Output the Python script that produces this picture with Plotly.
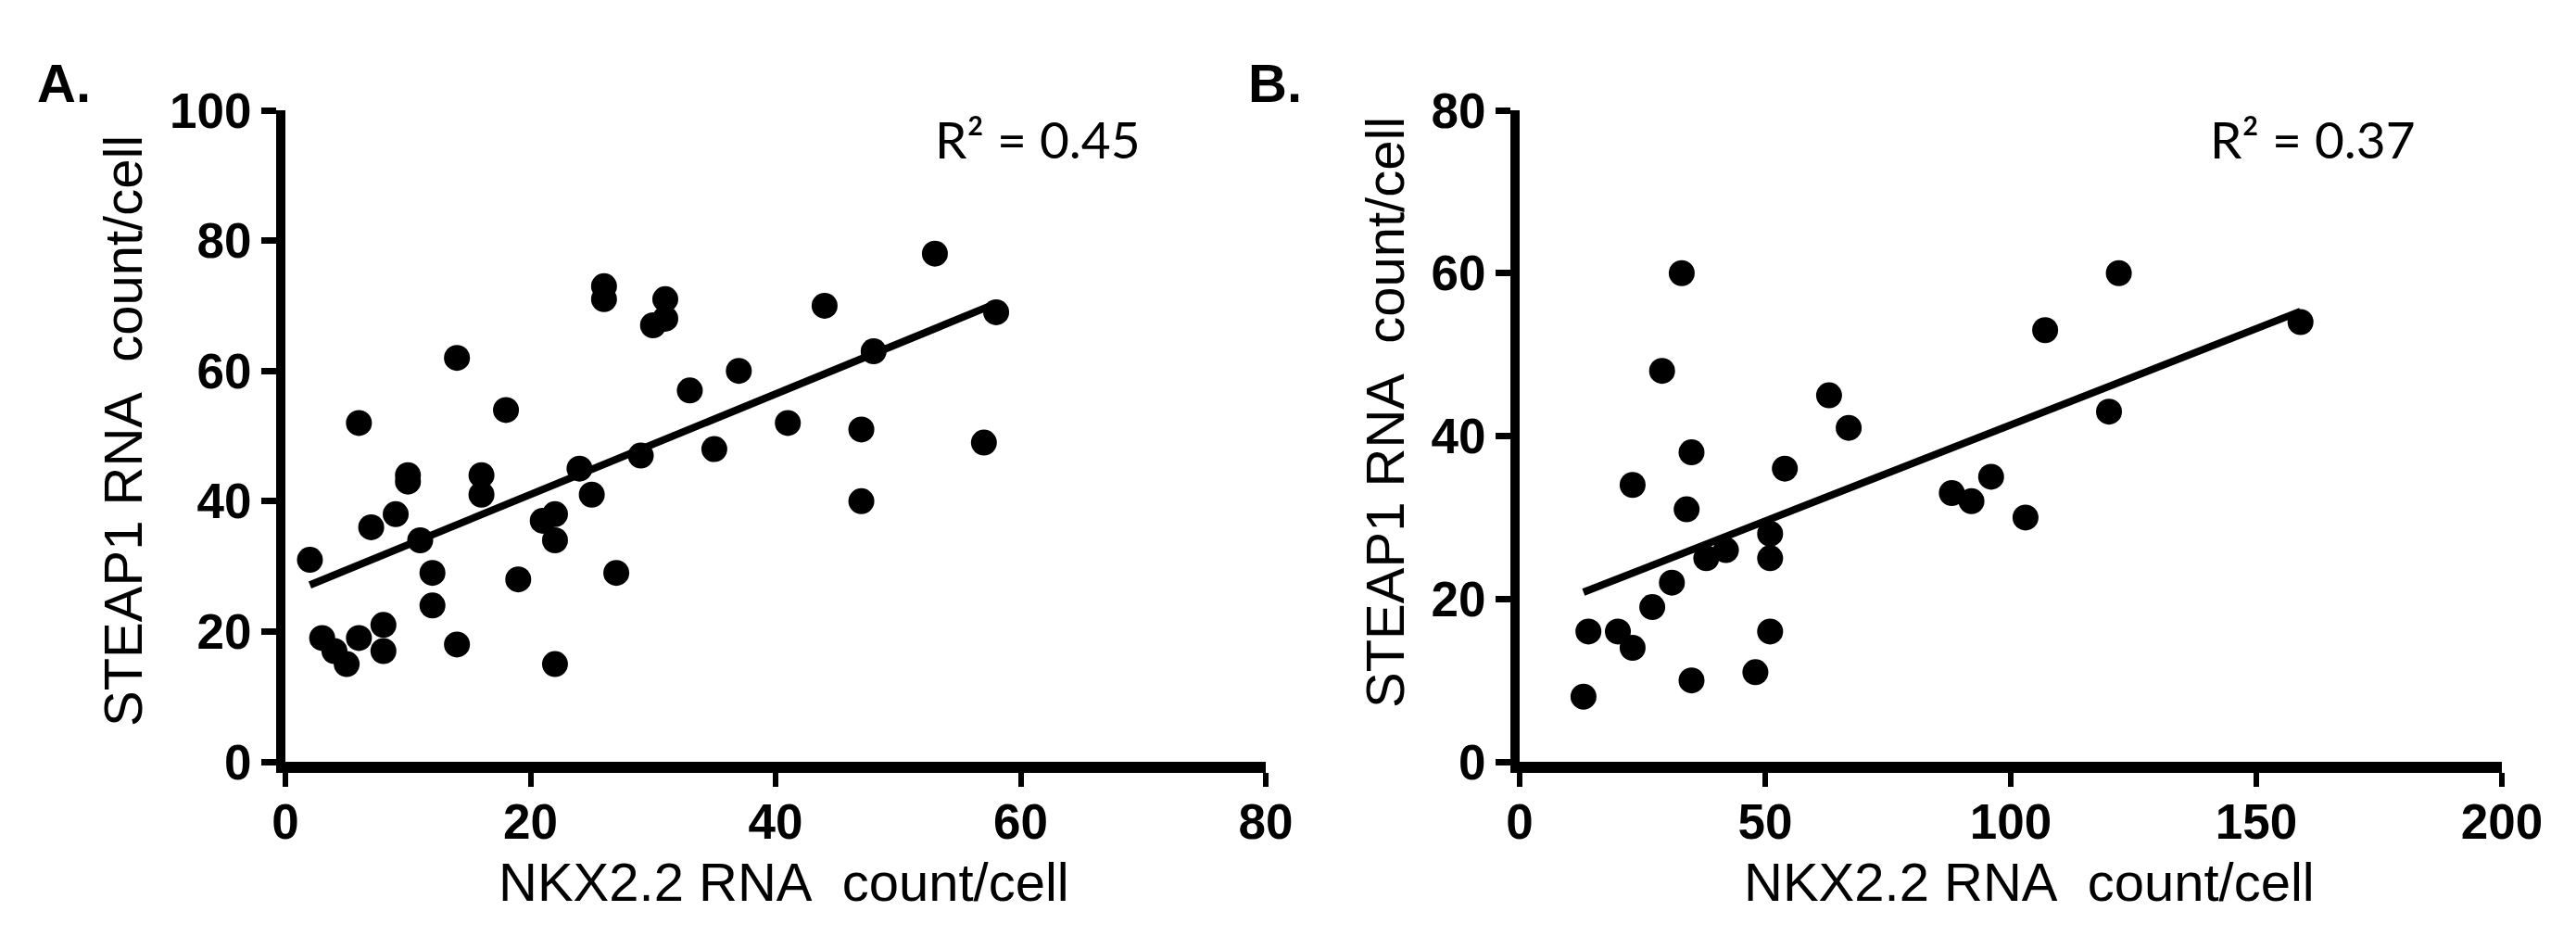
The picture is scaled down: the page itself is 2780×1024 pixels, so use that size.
import numpy as np
import plotly.graph_objects as go

# ---- data ----
a_x = [2, 3, 4, 5, 6, 6, 7, 8, 8, 9, 10, 10, 11, 12, 12, 14, 14, 16, 16, 18, 19, 21, 22, 22, 22,
       24, 25, 26, 26, 27, 29, 30, 31, 31, 33, 35, 37, 41, 44, 47, 47, 48, 53, 57, 58]
a_y = [31, 19, 17, 15, 52, 19, 36, 21, 17, 38, 44, 43, 34, 29, 24, 62, 18, 44, 41, 54, 28, 37, 38, 34, 15,
       45, 41, 73, 71, 29, 47, 67, 71, 68, 57, 48, 60, 52, 70, 51, 40, 63, 78, 49, 69]

b_x = [13, 14, 20, 23, 23, 27, 29, 31, 33, 34, 35, 35, 38, 42, 48, 51, 51, 51, 54, 63, 67,
       88, 92, 96, 103, 107, 120, 122, 159]
b_y = [8, 16, 16, 14, 34, 19, 48, 22, 60, 31, 38, 10, 25, 26, 11, 28, 25, 16, 36, 45, 41,
       33, 32, 35, 30, 53, 43, 60, 54]

a_r2_text = "R² = 0.45"
b_r2_text = "R² = 0.37"
x_title = "NKX2.2 RNA\u00a0\u00a0count/cell"
y_title = "STEAP1 RNA\u00a0\u00a0count/cell"
a_xticks = [0, 20, 40, 60, 80]
a_yticks = [0, 20, 40, 60, 80, 100]
b_xticks = [0, 50, 100, 150, 200]
b_yticks = [0, 20, 40, 60, 80]

W, H = 2780, 1024


def px(x):
    return x / W


def py(y):
    return 1 - y / H


def fit(xs, ys):
    k, c = np.polyfit(xs, ys, 1)
    xx = np.array([min(xs), max(xs)])
    return xx, k * xx + c


fig = go.Figure()

for xs, ys, xa, ya in [(a_x, a_y, "x", "y"), (b_x, b_y, "x2", "y2")]:
    fx, fy = fit(xs, ys)
    fig.add_trace(go.Scatter(x=fx, y=fy, mode="lines", xaxis=xa, yaxis=ya,
                             line=dict(color="black", width=8), showlegend=False,
                             hoverinfo="skip", cliponaxis=False))
    fig.add_trace(go.Scatter(x=xs, y=ys, mode="markers", xaxis=xa, yaxis=ya,
                             marker=dict(color="black", size=28, line=dict(width=0)),
                             showlegend=False, cliponaxis=False))

tickfont = dict(family="Liberation Sans, Arial", size=53, color="black", weight="bold")
common_x = dict(showgrid=False, zeroline=False, showline=True, linewidth=12, linecolor="black",
                ticks="outside", ticklen=15, tickwidth=6, tickcolor="black",
                tickfont=tickfont, automargin=False, ticklabelstandoff=-8)
common_y = dict(showgrid=False, zeroline=False, showline=True, linewidth=10, linecolor="black",
                ticks="outside", ticklen=16, tickwidth=7, tickcolor="black",
                tickfont=tickfont, automargin=False)

ydom = [py(822), py(119)]
fig.update_layout(
    width=W, height=H, margin=dict(l=0, r=0, t=0, b=0, pad=0, autoexpand=False),
    paper_bgcolor="white", plot_bgcolor="white",
    xaxis=dict(domain=[px(308), px(1366)], range=[0, 80], tickvals=a_xticks, anchor="y", **common_x),
    yaxis=dict(domain=ydom, range=[0, 100], tickvals=a_yticks, anchor="x", **common_y),
    xaxis2=dict(domain=[px(1640), px(2700)], range=[0, 200], tickvals=b_xticks, anchor="y2", **common_x),
    yaxis2=dict(domain=ydom, range=[0, 80], tickvals=b_yticks, anchor="x2", **common_y),
)

title_font = dict(family="Liberation Sans, Arial", size=58, color="black")
label_font = dict(family="Liberation Sans, Arial", size=58, color="black", weight="bold")
r2_font = dict(family="Lato", size=55, color="black")

ann = [
    dict(text="A.", x=px(38), y=py(89), xanchor="left", yanchor="middle", font=label_font),
    dict(text="B.", x=px(1345), y=py(89), xanchor="left", yanchor="middle", font=label_font),
    dict(text=x_title, x=px(846), y=py(951), xanchor="center", yanchor="middle", font=title_font),
    dict(text=x_title, x=px(2190), y=py(951), xanchor="center", yanchor="middle", font=title_font),
    dict(text=y_title, x=px(132), y=py(465), xanchor="center", yanchor="middle",
         textangle=-90, font=title_font),
    dict(text=y_title, x=px(1494), y=py(445), xanchor="center", yanchor="middle",
         textangle=-90, font=title_font),
    dict(text=a_r2_text, x=px(1120), y=py(150), xanchor="center", yanchor="middle", font=r2_font),
    dict(text=b_r2_text, x=px(2496), y=py(150), xanchor="center", yanchor="middle", font=r2_font),
]
for a in ann:
    a.update(xref="paper", yref="paper", showarrow=False)
fig.update_layout(annotations=ann)

fig.write_html("out.html")
